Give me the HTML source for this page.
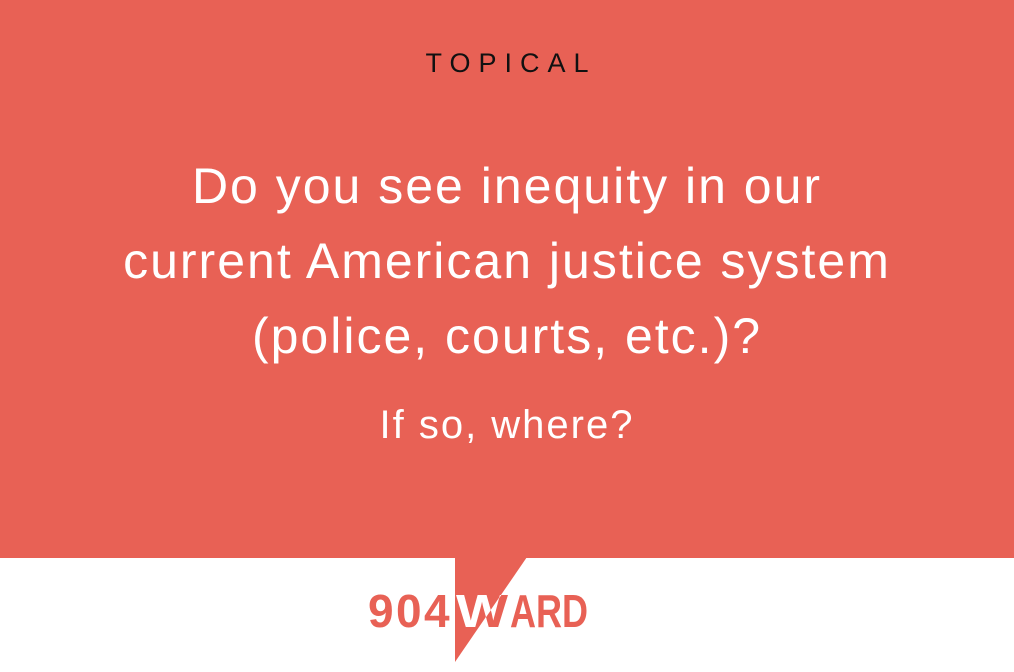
<!DOCTYPE html>
<html><head><meta charset="utf-8"><style>
html,body{margin:0;padding:0;width:1014px;height:672px;overflow:hidden;background:#fff;font-family:"Liberation Sans",sans-serif}
.bg{position:absolute;left:0;top:0;width:1014px;height:558px;background:#e86155}
.t{position:absolute;left:0;width:1014px;text-align:center;color:#fff;white-space:nowrap}
</style></head><body>
<div class="bg"></div>
<div class="t" style="top:48px;font-size:27px;letter-spacing:8px;color:#111;left:4px">TOPICAL</div>
<div class="t" style="top:157px;font-size:50px;letter-spacing:2px">Do you see inequity in our</div>
<div class="t" style="top:232px;font-size:50px;letter-spacing:2px">current American justice system</div>
<div class="t" style="top:307px;font-size:50px;letter-spacing:2px">(police, courts, etc.)?</div>
<div class="t" style="top:403px;font-size:40px;letter-spacing:2px">If so, where?</div>
<svg style="position:absolute;left:0;top:0" width="1014" height="672">
<defs><clipPath id="tri"><polygon points="455,558 527,558 455,662"/></clipPath></defs>
<polygon points="455,557 527,557 455,662" fill="#e86155"/>
<g font-family="Liberation Sans" font-weight="bold" font-size="46" fill="#e86155">
<text x="368" y="627">9</text>
<text x="396" y="627">0</text>
<text x="424" y="627">4</text>
<text x="456" y="627" textLength="52" lengthAdjust="spacingAndGlyphs">W</text>
<text x="510" y="627" textLength="78" lengthAdjust="spacingAndGlyphs">ARD</text>
</g>
<text x="456" y="627" font-family="Liberation Sans" font-weight="bold" font-size="46" fill="#fff" textLength="52" lengthAdjust="spacingAndGlyphs" clip-path="url(#tri)">W</text>
</svg>
</body></html>
